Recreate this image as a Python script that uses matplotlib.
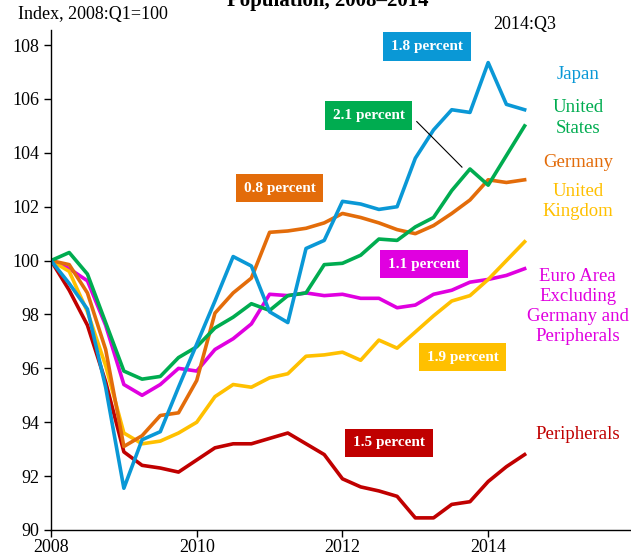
import numpy as np
import matplotlib
matplotlib.use("Agg")
import matplotlib.pyplot as plt

plt.rcParams['font.family'] = ['Liberation Serif', 'DejaVu Serif']

# quarterly index, 2008:Q1 .. 2014:Q3
quarters = 2008 + np.arange(27) / 4.0

japan = [100.0, 99.15, 98.2, 95.3, 91.55, 93.35, 93.65, 95.3, 96.9, 98.5, 100.15, 99.8, 98.1, 97.7,
         100.45, 100.75, 102.2, 102.1, 101.9, 102.0, 103.8, 104.85, 105.6, 105.5, 107.35, 105.8, 105.6]
us = [100.0, 100.3, 99.5, 97.7, 95.9, 95.6, 95.7, 96.4, 96.8, 97.5, 97.9, 98.4, 98.15, 98.7,
      98.8, 99.85, 99.9, 100.2, 100.8, 100.75, 101.25, 101.6, 102.6, 103.4, 102.8, 103.9, 105.0]
germany = [100.0, 99.85, 98.8, 96.7, 93.1, 93.5, 94.25, 94.35, 95.55, 98.05, 98.8, 99.35, 101.05, 101.1,
           101.2, 101.4, 101.75, 101.6, 101.4, 101.15, 101.0, 101.3, 101.75, 102.25, 103.0, 102.9, 103.0]
uk = [100.0, 99.6, 98.1, 96.1, 93.6, 93.2, 93.3, 93.6, 94.0, 94.95, 95.4, 95.3, 95.65, 95.8,
      96.45, 96.5, 96.6, 96.3, 97.05, 96.75, 97.35, 97.95, 98.5, 98.7, 99.3, 100.0, 100.7]
euro = [100.0, 99.7, 99.25, 97.6, 95.4, 95.0, 95.4, 96.0, 95.9, 96.7, 97.1, 97.65, 98.75, 98.7,
        98.8, 98.7, 98.75, 98.6, 98.6, 98.25, 98.35, 98.75, 98.9, 99.2, 99.3, 99.45, 99.7]
periph = [100.0, 98.9, 97.6, 95.5, 92.9, 92.4, 92.3, 92.15, 92.6, 93.05, 93.2, 93.2, 93.4, 93.6,
          93.2, 92.8, 91.9, 91.6, 91.45, 91.25, 90.45, 90.45, 90.95, 91.05, 91.8, 92.35, 92.8]

c_jp = '#0A98D6'
c_us = '#00AC50'
c_de = '#E36C0A'
c_uk = '#FFC000'
c_eu = '#E000E0'
c_pe = '#C00000'

fig = plt.figure(figsize=(6.31, 5.55), dpi=100)
ax = fig.add_axes([51 / 631, 25 / 555, 580 / 631, 500 / 555])

lw = 2.6
ax.plot(quarters, euro, color=c_eu, lw=lw)
ax.plot(quarters, periph, color=c_pe, lw=lw)
ax.plot(quarters, uk, color=c_uk, lw=lw)
ax.plot(quarters, germany, color=c_de, lw=lw)
ax.plot(quarters, us, color=c_us, lw=lw)
ax.plot(quarters, japan, color=c_jp, lw=lw)

ax.set_xlim(2008, 2015.96)
ax.set_ylim(90, 108.56)
ax.set_xticks([2008, 2010, 2012, 2014])
ax.set_yticks(np.arange(90, 109, 2))
ax.tick_params(labelsize=13, direction='out', length=5, width=1, color='black')
ax.tick_params(axis='x', pad=1.5)
for s in ['top', 'right']:
    ax.spines[s].set_visible(False)
for s in ['left', 'bottom']:
    ax.spines[s].set_linewidth(1)
    ax.spines[s].set_color('black')

# growth-rate boxes
boxes = [
    ('1.8 percent', 2013.16, 107.95, c_jp),
    ('2.1 percent', 2012.36, 105.39, c_us),
    ('0.8 percent', 2011.14, 102.69, c_de),
    ('1.1 percent', 2013.12, 99.87, c_eu),
    ('1.9 percent', 2013.65, 96.42, c_uk),
    ('1.5 percent', 2012.64, 93.23, c_pe),
]
for txt, x, y, c in boxes:
    ax.text(x, y, txt, ha='center', va='center', color='white', fontsize=11, weight='bold',
            bbox=dict(boxstyle='square,pad=0.5', fc=c, ec='none'), clip_on=False)

ax.plot([2013.02, 2013.64], [105.16, 103.47], color='black', lw=0.8)

# series labels
labels = [
    ('Japan', 106.89, c_jp),
    ('United\nStates', 105.29, c_us),
    ('Germany', 103.65, c_de),
    ('United\nKingdom', 102.2, c_uk),
    ('Euro Area\nExcluding\nGermany and\nPeripherals', 98.3, c_eu),
    ('Peripherals', 93.55, c_pe),
]
for txt, y, c in labels:
    ax.text(2015.23, y, txt, ha='center', va='center', color=c, fontsize=13.5,
            linespacing=1.25, clip_on=False)

ax.text(2014.5, 108.75, '2014:Q3', ha='center', va='center', fontsize=13, clip_on=False)

fig.text(18 / 631, 1 - 15 / 555, 'Index, 2008:Q1=100', ha='left', va='center', fontsize=13)
fig.text(328 / 631, 1 - 6 / 555, 'Population, 2008\u20132014', ha='center', va='baseline',
         fontsize=15, weight='bold')

fig.savefig('out.png', dpi=100)
